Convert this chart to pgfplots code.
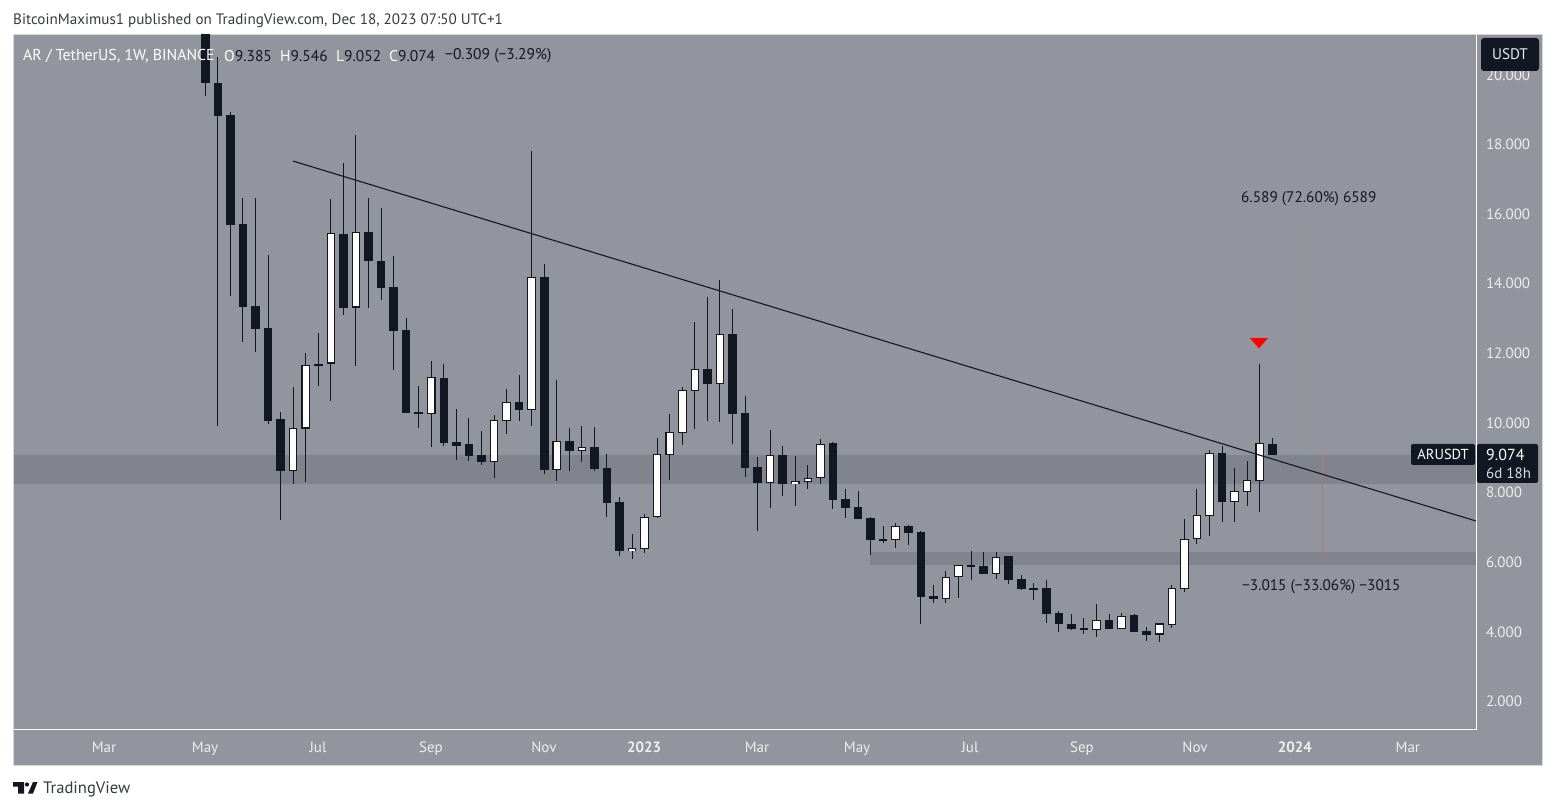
\documentclass[border=0pt]{standalone}
\usepackage{pgfplots}
\pgfplotsset{compat=1.18}
\usepackage{pgfplotstable}
\usepackage{fontspec}
\setmainfont{PT Sans}

\definecolor{panel}{HTML}{93959E}
\definecolor{zone}{HTML}{82848D}
\definecolor{dk}{HTML}{131722}
\definecolor{frameln}{HTML}{D6D8DF}
\definecolor{lbl}{HTML}{ECEDF0}

% columns: week, open, close, high, low
\pgfplotstableread{
i o c h l
7 8.616 9.832 11.019 8.242
8 9.832 11.642 11.996 8.290
10 11.699 15.434 16.420 10.627
12 13.308 15.462 18.259 11.632
18 10.253 11.297 11.766 9.305
23 8.874 10.061 10.215 8.405
24 10.052 10.579 10.962 9.669
26 10.368 14.179 17.799 9.899
28 8.644 9.458 11.220 8.319
30 9.190 9.286 9.899 8.864
34 6.317 6.384 6.796 6.078
35 6.375 7.275 7.371 6.250
36 7.294 9.085 9.554 7.256
37 9.075 9.717 10.243 8.347
38 9.707 10.923 11.019 9.353
39 10.914 11.527 12.886 9.812
41 11.115 12.532 14.093 10.014
45 8.271 9.056 9.784 7.543
47 8.242 8.309 9.037 7.600
48 8.299 8.395 8.778 8.089
49 8.414 9.372 9.525 8.232
55 6.633 7.016 7.112 6.394
59 4.938 5.551 5.733 4.814
60 5.570 5.896 5.905 4.957
63 5.657 6.126 6.279 5.503
71 4.048 4.316 4.786 3.838
73 4.077 4.431 4.527 4.077
76 3.914 4.221 4.230 3.694
77 4.192 5.236 5.331 4.096
78 5.226 6.643 7.228 5.130
79 6.662 7.333 8.089 6.509
80 7.323 9.114 9.210 6.739
82 7.725 8.022 8.693 7.141
83 8.013 8.338 8.894 7.601
84 8.329 9.401 11.680 7.429
}\upweeks
\pgfplotstableread{
i o c h l
0 21.600 19.762 22.000 19.390
1 19.760 18.814 20.490 9.908
2 18.833 15.683 18.910 13.643
3 15.702 13.327 16.439 12.322
4 13.346 12.695 16.439 12.034
5 12.714 10.052 14.811 9.966
6 10.100 8.616 10.292 7.208
9 11.680 11.632 12.571 11.058
11 15.415 13.298 17.454 13.088
13 15.472 14.648 16.439 13.298
14 14.639 13.873 16.162 13.528
15 13.892 12.638 14.783 11.517
16 12.657 10.282 12.992 10.282
17 10.301 10.253 11.048 9.851
19 11.278 9.420 11.680 9.334
20 9.439 9.324 10.387 8.932
21 9.382 9.047 10.129 8.903
22 9.066 8.865 9.755 8.788
25 10.588 10.368 11.364 10.042
27 14.179 8.635 14.553 8.520
29 9.468 9.180 9.841 8.606
31 9.295 8.663 9.870 8.606
32 8.692 7.696 9.094 7.285
33 7.715 6.317 7.859 6.164
40 11.536 11.105 13.605 10.042
42 12.542 10.243 13.260 9.382
43 10.272 8.692 10.760 8.434
44 8.721 8.261 9.008 6.882
46 9.066 8.232 9.324 7.888
50 9.410 7.773 9.439 7.514
51 7.802 7.543 8.089 7.256
52 7.572 7.227 8.031 7.227
53 7.256 6.624 7.284 6.193
54 6.652 6.624 7.026 6.538
56 7.016 6.825 7.055 6.480
57 6.853 4.986 6.882 4.211
58 5.015 4.929 5.331 4.814
61 5.905 5.877 6.308 5.475
62 5.877 5.647 6.279 5.647
64 6.164 5.475 6.164 5.360
65 5.503 5.216 5.618 5.187
66 5.245 5.216 5.388 4.900
67 5.245 4.498 5.475 4.240
68 4.527 4.211 4.585 3.981
69 4.211 4.067 4.498 4.039
70 4.096 4.048 4.384 3.924
72 4.326 4.067 4.498 4.067
74 4.470 3.981 4.498 3.981
75 4.010 3.895 4.125 3.723
81 9.124 7.716 9.325 7.141
85 9.385 9.074 9.546 9.052
}\downweeks

\pgfplotsset{
  hidden/.style={only marks, mark size=0pt, mark options={draw=none, fill=none}, forget plot},
  wick/.style={hidden, error bars/.cd, y dir=both, y explicit,
    error mark=none, error bar style={dk, line width=1pt}},
  body/.style={hidden, error bars/.cd, y dir=both, y explicit,
    error mark=none, error bar style={dk, line width=8.6pt}},
  inner/.style={hidden, error bars/.cd, y dir=both, y explicit,
    error mark=none, error bar style={white, line width=6.4pt}},
}
\newcommand{\fs}[1]{\fontsize{#1}{#1}\selectfont}

\begin{document}
\begin{tikzpicture}[x=1pt,y=1pt]
\useasboundingbox (0,0) rectangle (1556,809);
\fill[white] (0,0) rectangle (1556,809);
\draw[frameln, fill=panel, line width=1pt] (13.5,44) rectangle (1542.5,774.5);

\begin{axis}[
    at={(14pt,79pt)}, anchor=south west,
    scale only axis, width=1462pt, height=695pt,
    xmin=-15.24, xmax=101.23, ymin=1.166, ymax=21.131,
    axis y line*=right, axis x line*=bottom,
    axis line style={white, line width=1pt, -},
    major tick length=0pt,
    ytick={2,4,...,20},
    xtick={-8.07,-0.02,8.98,17.98,26.98,34.95,43.95,51.92,60.92,69.84,78.85,86.8,95.8},
    xticklabels={Mar,May,Jul,Sep,Nov,\textbf{2023},Mar,May,Jul,Sep,Nov,\textbf{2024},Mar},
    /pgf/number format/assume math mode=true,
    yticklabel style={/pgf/number format/fixed, /pgf/number format/fixed zerofill,
      /pgf/number format/precision=3, font=\fs{15}, lbl, xshift=6.5pt, yshift=-0.5pt},
    xticklabel style={font=\fs{15}, lbl, yshift=-8pt},
]
% grey zones
\addplot[fill=zone, draw=none, forget plot] coordinates {(-15.24,9.066) (101.23,9.066) (101.23,8.233) (-15.24,8.233)} -- cycle;
\addplot[fill=zone, draw=none, forget plot] coordinates {(52.95,6.279) (101.23,6.279) (101.23,5.906) (52.95,5.906)} -- cycle;
% projection lines
\addplot[color={rgb,255:red,160;green,125;blue,135}, line width=0.7pt, forget plot] coordinates {(88.97,9.11) (88.97,6.136)};
\addplot[color={rgb,255:red,135;green,155;blue,145}, line width=0.7pt, forget plot] coordinates {(87.95,15.67) (87.95,9.09)};
% candles
\addplot[wick] table[x=i, y expr=(\thisrow{h}+\thisrow{l})/2, y error expr=(\thisrow{h}-\thisrow{l})/2] {\upweeks};
\addplot[wick] table[x=i, y expr=(\thisrow{h}+\thisrow{l})/2, y error expr=(\thisrow{h}-\thisrow{l})/2] {\downweeks};
\addplot[body] table[x=i, y expr=(\thisrow{o}+\thisrow{c})/2, y error expr={abs(\thisrow{o}-\thisrow{c})/2+0.006}] {\downweeks};
\addplot[body] table[x=i, y expr=(\thisrow{o}+\thisrow{c})/2, y error expr={abs(\thisrow{o}-\thisrow{c})/2+0.006}] {\upweeks};
\addplot[inner] table[x=i, y expr=(\thisrow{o}+\thisrow{c})/2, y error expr={max(abs(\thisrow{o}-\thisrow{c})/2-0.026,0.012)}] {\upweeks};
% trend line
\addplot[dk, line width=1.1pt, forget plot] coordinates {(6.986,17.51) (101.23,7.17)};
% red marker
\addplot[fill=red, draw=none, forget plot] coordinates {(83.22,12.42) (84.65,12.42) (83.94,12.13)} -- cycle;
\end{axis}

% header and footer
\node[anchor=west, inner sep=0pt, text=dk!85, font=\fs{15.1}] at (13,788) {BitcoinMaximus1 published on TradingView.com, Dec 18, 2023 07:50 UTC+1};
\node[anchor=west, inner sep=0pt, text=white, font=\fs{15.8}] at (23,753) {AR / TetherUS, 1W, BINANCE};
\begin{scope}[every node/.style={anchor=west, inner sep=0pt, font=\fs{15.5}, text=dk}]
\node at (224,753) {\textcolor{white}{O}9.385};
\node at (280,753) {\textcolor{white}{H}9.546};
\node at (336,753) {\textcolor{white}{L}9.052};
\node at (389,753) {\textcolor{white}{C}9.074};
\node at (445,753) {−0.309 (−3.29\%)};
\end{scope}
% measure labels
\node[anchor=west, inner sep=0pt, text=dk, font=\fs{15.3}] at (1241,610) {6.589 (72.60\%) 6589};
\node[anchor=west, inner sep=0pt, text=dk, font=\fs{15.3}] at (1242,222) {−3.015 (−33.06\%) −3015};
% price chips
\fill[dk, rounded corners=3pt] (1481,738) rectangle (1539,771);
\node[text=lbl, font=\fs{15.3}] at (1510,755) {USDT};
\fill[dk, rounded corners=2pt] (1411,344) rectangle (1475,365);
\node[text=white, font=\fs{14.5}] at (1443,354.5) {ARUSDT};
\fill[dk, rounded corners=2pt] (1477,326) rectangle (1538,365);
\node[text=white, font=\fs{16}, anchor=west, inner sep=0pt] at (1486,354.5) {9.074};
\node[text=lbl!80!panel, font=\fs{15}, anchor=west, inner sep=0pt] at (1486,336) {6d 18h};
% logo
\fill[dk] (13,27) rectangle (24,22.5) (18,22.5) rectangle (24,15.5);
\fill[dk] (27,24.5) circle (2.1);
\fill[dk] (28,15.5) -- (33,27) -- (37.5,27) -- (33,15.5) -- cycle;
\node[anchor=west, inner sep=0pt, text=dk!85, font=\fs{16.6}] at (43,20) {TradingView};
\end{tikzpicture}
\end{document}
